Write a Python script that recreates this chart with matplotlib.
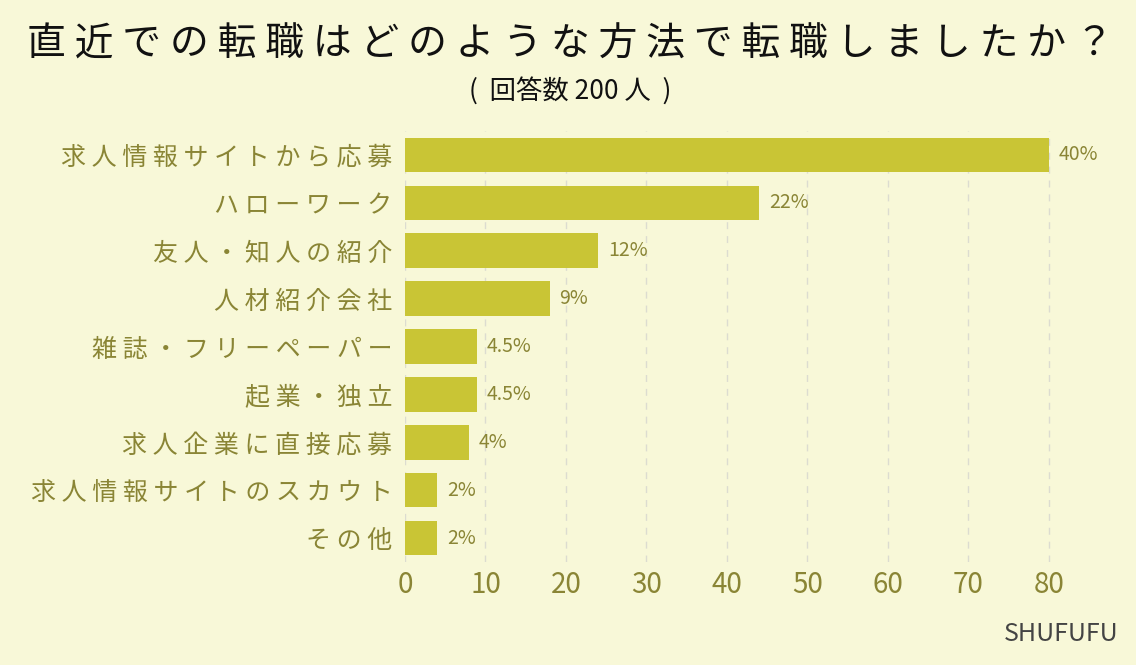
import matplotlib
matplotlib.use("Agg")
import matplotlib.pyplot as plt

plt.rcParams['font.family'] = ['Noto Sans CJK JP', 'DejaVu Sans']

title = "直近での転職はどのような方法で転職しましたか？"
subtitle = "(  回答数 200 人  )"
categories = ["求人情報サイトから応募", "ハローワーク", "友人・知人の紹介", "人材紹介会社",
              "雑誌・フリーペーパー", "起業・独立", "求人企業に直接応募",
              "求人情報サイトのスカウト", "その他"]
counts = [80, 44, 24, 18, 9, 9, 8, 4, 4]
labels = ["40%", "22%", "12%", "9%", "4.5%", "4.5%", "4%", "2%", "2%"]
xticks = [0, 10, 20, 30, 40, 50, 60, 70, 80]

bg = "#F8F8D8"
bar_c = "#C9C535"
txt_c = "#8A8535"


def spaced(s):
    return " ".join(list(s))


W, H = 1136, 665
fig = plt.figure(figsize=(W/100, H/100), dpi=100, facecolor=bg)
left, right, top, bottom = 405, 1065, 131, 562
ax = fig.add_axes([left/W, 1-bottom/H, (right-left)/W, (bottom-top)/H])
ax.set_facecolor(bg)

y = list(range(len(categories)))
ax.barh(y, counts, height=0.72, color=bar_c, zorder=3)
ax.set_ylim(len(categories)-0.5, -0.5)
ax.set_xlim(0, 82)
ax.set_yticks(y)
ax.set_yticklabels([spaced(c) for c in categories], fontsize=18, color=txt_c)
ax.set_xticks(xticks)
ax.set_xticklabels([str(t) for t in xticks], fontsize=20, color=txt_c)
ax.tick_params(axis='x', length=0, pad=6)
ax.tick_params(axis='y', length=0, pad=9)
for s in ax.spines.values():
    s.set_visible(False)
ax.grid(axis='x', linestyle=(0, (5, 5)), color='#DCDCD0', linewidth=1, zorder=0)

for yi, v, lab in zip(y, counts, labels):
    ax.text(v + 1.2, yi, lab, va='center', ha='left', fontsize=14, color=txt_c)

fig.text(570/W, 1-45/H, spaced(title), ha='center', va='center',
         fontsize=28, color='#111111')
fig.text(570/W, 1-91/H, subtitle, ha='center', va='center', fontsize=19, color='#111111')
fig.text(1118/W, 1-634/H, "SHUFUFU", ha='right', va='center', fontsize=18, color='#444444')

fig.savefig("out.png", dpi=100, facecolor=bg)
